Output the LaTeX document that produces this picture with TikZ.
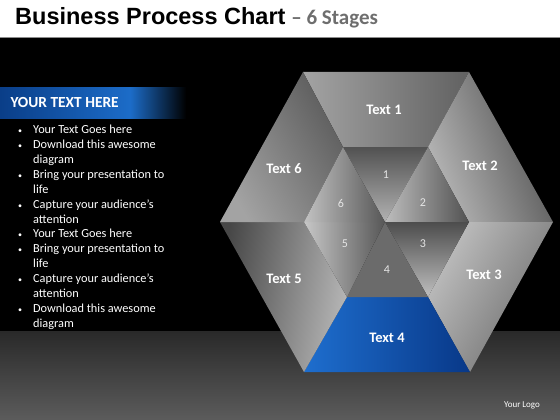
\documentclass[tikz,border=0pt]{standalone}
\usepackage{fontspec}
\setmainfont{Carlito}
\newfontfamily\titlefont{Liberation Sans}
\usepackage{xcolor}
\definecolor{bannerdark}{RGB}{10, 62, 136}
\definecolor{bannerlight}{RGB}{28, 108, 200}
\definecolor{stageblue}{RGB}{30, 110, 206}
\definecolor{stagenavy}{RGB}{8, 56, 136}
\definecolor{subgray}{RGB}{110, 110, 110}
\usetikzlibrary{calc}
\pgfdeclarehorizontalshading{banner}{100bp}{color(0bp)=(bannerdark); color(25bp)=(bannerdark);
  color(60bp)=(bannerlight); color(75bp)=(black); color(100bp)=(black)}
\newcommand{\dotitem}{{\fontsize{8}{10}\selectfont\textbullet}}

\begin{document}
\begin{tikzpicture}[x=1pt,y=-1pt,
  stagelabel/.style={text=white,font=\fontsize{14.5}{16}\bfseries},
  numlabel/.style={text=black!10,font=\fontsize{12}{14}\selectfont},
  face/.style 2 args={left color=#1,right color=#2}]
  \useasboundingbox (0,0) rectangle (560,420);
  % background
  \fill[white] (0,0) rectangle (560,37);
  \fill[black] (0,37) rectangle (560,331);
  \shade[top color=black!84,bottom color=black!64] (0,331) rectangle (560,420);
  \draw[black!45,line width=0.8pt] (0,37.5) -- (560,37.5);
  \node[anchor=west,inner sep=0] (title) at (15,18)
    {{\titlefont\fontsize{23.5}{26}\bfseries Business Process Chart}
     {\fontsize{21}{24}\bfseries\color{subgray}\,– 6 Stages}};
  % left panel
  \shade[shading=banner] (0,88) rectangle (186,118);
  \node[anchor=west,text=white,font=\fontsize{15.4}{17}\bfseries] (head) at (7,103) {YOUR TEXT HERE};
  \node[anchor=north west,inner sep=0,text=white,font=\fontsize{12.3}{14.9}\selectfont] (bullets) at (18,123)
    {\begin{tabular}{@{}l@{\hspace{11pt}}l@{}}
      \dotitem & Your Text Goes here\\
      \dotitem & Download this awesome\\
               & diagram\\
      \dotitem & Bring your presentation to\\
               & life\\
      \dotitem & Capture your audience’s\\
               & attention\\
      \dotitem & Your Text Goes here\\
      \dotitem & Bring your presentation to\\
               & life\\
      \dotitem & Capture your audience’s\\
               & attention\\
      \dotitem & Download this awesome\\
               & diagram
    \end{tabular}};
  % hexagon corners and inner points
  \coordinate (TL) at (303,72);  \coordinate (TR) at (469,72);
  \coordinate (R) at (553,222);  \coordinate (BR) at (470,372);
  \coordinate (BL) at (304,372); \coordinate (L) at (220,222);
  \coordinate (a) at (343,147);  \coordinate (b) at (428,147);
  \coordinate (e) at (469,222);  \coordinate (g) at (428,297);
  \coordinate (f) at (347,297);  \coordinate (d) at (304,222);
  \coordinate (c) at (385,222);
  % outer faces
  \shade[face={black!36}{black!62}] (TL) -- (TR) -- (b) -- (a) -- cycle;
  \shade[face={black!28}{black!70},shading angle=110] (TR) -- (R) -- (e) -- (b) -- cycle;
  \shade[face={black!25}{black!58},shading angle=60] (R) -- (BR) -- (g) -- (e) -- cycle;
  \shade[face={stageblue}{stagenavy}] (BR) -- (BL) -- (f) -- (g) -- cycle;
  \shade[face={black!72}{black!28},shading angle=80] (BL) -- (L) -- (d) -- (f) -- cycle;
  \shade[face={black!36}{black!64},shading angle=120] (L) -- (TL) -- (a) -- (d) -- cycle;
  % inner triangles
  \shade[top color=black!68,bottom color=black!30] (a) -- (b) -- (c) -- cycle;
  \shade[face={black!26}{black!68}] (b) -- (e) -- (c) -- cycle;
  \shade[top color=black!70,bottom color=black!25] (e) -- (g) -- (c) -- cycle;
  \shade[left color=black!58,middle color=black!22,right color=black!58] (g) -- (f) -- (c) -- cycle;
  \shade[face={black!22}{black!66}] (f) -- (d) -- (c) -- cycle;
  \shade[face={black!24}{black!66}] (d) -- (a) -- (c) -- cycle;
  % labels
  \node[stagelabel] (s1) at (384,110) {Text 1};
  \node[stagelabel] (s2) at (480,166) {Text 2};
  \node[stagelabel] (s3) at (484,275) {Text 3};
  \node[stagelabel] (s4) at (387,338) {Text 4};
  \node[stagelabel] (s5) at (284,279) {Text 5};
  \node[stagelabel] (s6) at (284,169) {Text 6};
  \node[numlabel] (n1) at (386,175) {1};
  \node[numlabel] (n2) at (423,203) {2};
  \node[numlabel] (n3) at (423,244) {3};
  \node[numlabel] (n4) at (387,270) {4};
  \node[numlabel] (n5) at (345,244) {5};
  \node[numlabel] (n6) at (341,203) {6};
  \node[text=white,font=\fontsize{9}{10}\selectfont] (logo) at (522,405) {Your Logo};
\end{tikzpicture}
\end{document}
